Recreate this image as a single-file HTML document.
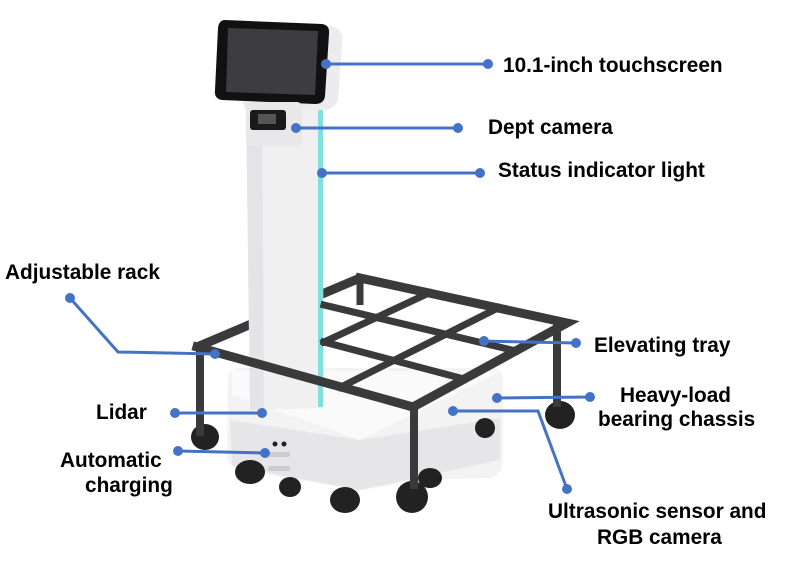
<!DOCTYPE html>
<html><head><meta charset="utf-8"><style>
body{margin:0;background:#fff}
svg{display:block}
text{font-family:"Liberation Sans",Arial,sans-serif;font-weight:bold;font-size:20.8px;fill:#000}
</style></head><body>
<svg width="801" height="578" viewBox="0 0 801 578">
<!-- chassis -->
<path d="M228 380 Q228 368 240 368 L490 368 Q503 368 503 380 L503 460 Q503 475 490 478 L420 480 L360 490 L240 470 Q227 466 227 455 Z" fill="#f3f3f4"/>
<path d="M230 420 L360 440 L500 418 L500 460 L360 490 L232 466 Z" fill="#e6e6e8"/>
<path d="M232 370 L500 372 L360 440 L232 395 Z" fill="#fafafa"/>
<circle cx="275" cy="444" r="2.5" fill="#222"/><circle cx="284" cy="444" r="2.5" fill="#222"/>
<rect x="268" y="452" width="22" height="5" rx="2" fill="#ccc"/>
<rect x="268" y="466" width="22" height="5" rx="2" fill="#ccc"/>
<!-- wheels -->
<g fill="#222">
<ellipse cx="250" cy="472" rx="15" ry="12"/>
<ellipse cx="290" cy="487" rx="11" ry="10"/>
<ellipse cx="345" cy="500" rx="15" ry="13"/>
<ellipse cx="430" cy="478" rx="12" ry="10"/>
<ellipse cx="205" cy="437" rx="14" ry="13"/>
<ellipse cx="412" cy="497" rx="16" ry="16"/>
<ellipse cx="560" cy="415" rx="15" ry="14"/>
<ellipse cx="485" cy="428" rx="10" ry="10"/>
</g>
<!-- rack back parts -->
<g stroke="#3a3a3a" fill="none">
<path d="M197 347 L360 278" stroke-width="9"/>
<path d="M360 280 L360 305" stroke-width="7"/>
<path d="M251 324 L322 342" stroke-width="7"/>
</g>
<!-- column -->
<path d="M246 100 L322 100 L324 408 L250 410 Z" fill="#f0f0f1"/>
<path d="M246 100 L262 100 L264 410 L250 410 Z" fill="#e4e4e6"/>
<rect x="318" y="105" width="5" height="302" fill="#7fe0e0"/>
<!-- screen shell -->
<path d="M222 22 L332 26 Q345 30 342 45 L338 100 Q335 110 322 110 L245 110 Z" fill="#ececee"/>
<path d="M225 20 L322 24 Q330 25 329 34 L325 96 Q324 104 315 104 L222 100 Q214 99 215 90 L218 28 Q219 20 225 20 Z" fill="#111"/>
<path d="M228 28 L318 31 L315 95 L226 92 Z" fill="#3d3d3f"/>
<!-- camera housing -->
<rect x="246" y="102" width="56" height="44" rx="5" fill="#e8e8ea"/>
<rect x="250" y="110" width="36" height="20" rx="3" fill="#1a1a1a"/>
<rect x="258" y="114" width="18" height="10" fill="#555"/>
<!-- rack -->
<g stroke="#3a3a3a" fill="none" stroke-linecap="square">
<path d="M200 350 L200 432 M414 408 L414 485 M557 325 L557 403" stroke-width="8"/>
<path d="M197 347 L413 407 L567 323 L360 278" stroke-width="9" stroke-linejoin="miter"/>
<path d="M324 342 L429 293 M341 387 L498 308" stroke-width="7"/>
<path d="M324 342 L464 379 M324 305 L516 351" stroke-width="7"/>
</g>
<!-- annotations -->
<g stroke="#4472c4" stroke-width="3" fill="none">
<path d="M326 64 L488 64"/>
<path d="M296 128 L458 128"/>
<path d="M322 173 L480 173"/>
<path d="M70 298 L118 352 L215 354"/>
<path d="M480 341 L576 343"/>
<path d="M497 398 L590 397"/>
<path d="M175 413 L262 413"/>
<path d="M178 451 L265 453"/>
<path d="M453 411 L538 411 L567 489"/>
</g>
<g fill="#4472c4">
<circle cx="326" cy="64" r="5"/><circle cx="488" cy="64" r="5"/>
<circle cx="296" cy="128" r="5"/><circle cx="458" cy="128" r="5"/>
<circle cx="322" cy="173" r="5"/><circle cx="480" cy="173" r="5"/>
<circle cx="70" cy="298" r="5"/><circle cx="215" cy="354" r="5"/>
<circle cx="484" cy="341" r="5"/><circle cx="576" cy="343" r="5"/>
<circle cx="497" cy="398" r="5"/><circle cx="590" cy="397" r="5"/>
<circle cx="175" cy="413" r="5"/><circle cx="262" cy="413" r="5"/>
<circle cx="178" cy="451" r="5"/><circle cx="265" cy="453" r="5"/>
<circle cx="453" cy="411" r="5"/><circle cx="567" cy="489" r="5"/>
</g>
<text x="503" y="72">10.1-inch touchscreen</text>
<text x="488" y="134">Dept camera</text>
<text x="498" y="177">Status indicator light</text>
<text x="5" y="279">Adjustable rack</text>
<text x="594" y="352">Elevating tray</text>
<text x="620" y="402">Heavy-load</text>
<text x="598" y="426">bearing chassis</text>
<text x="96" y="419">Lidar</text>
<text x="60" y="467">Automatic</text>
<text x="85" y="492">charging</text>
<text x="548" y="518">Ultrasonic sensor and</text>
<text x="597" y="544">RGB camera</text>
</svg>
</body></html>
